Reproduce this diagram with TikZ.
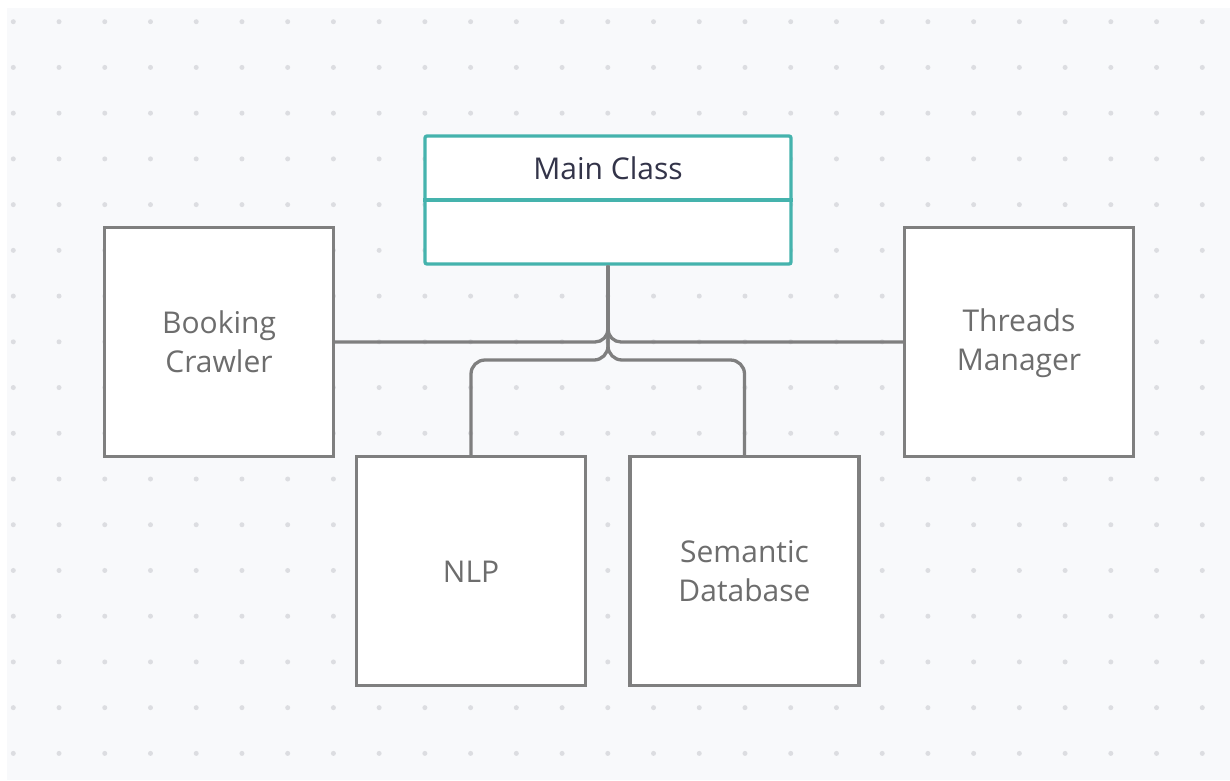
\documentclass[tikz,border=0pt]{standalone}
\usepackage{fontspec}
\setmainfont{Open Sans}
\definecolor{canvas}{HTML}{F8F9FB}
\definecolor{gridDot}{HTML}{DCDDE1}
\definecolor{edgeGray}{HTML}{7F7F7F}
\definecolor{labelGray}{HTML}{6D6D6D}
\definecolor{classTeal}{HTML}{45B3AD}
\definecolor{classInk}{HTML}{333449}
% fixed line box (25pt above, 3pt below the baseline) so every label centres the same way
\newcommand\lblstrut{\rule[-3pt]{0pt}{28pt}}
\tikzset{
  module/.style={draw=edgeGray, line width=3.3pt, fill=white, rectangle,
    minimum width=229pt, minimum height=229pt, inner sep=0pt,
    text=labelGray, align=center,
    font=\fontsize{30}{39.5}\selectfont},
  classbox/.style={draw=classTeal, line width=3.3pt, fill=white, rectangle,
    rounded corners=2pt, minimum width=366pt, minimum height=128pt, inner sep=0pt},
  link/.style={draw=edgeGray, line width=3.3pt}
}
\begin{document}
\begin{tikzpicture}[x=1pt, y=-1pt]
  \useasboundingbox (0,0) rectangle (1230,780);
  % canvas with dot grid
  \fill[white] (0,0) rectangle (1230,780);
  \fill[canvas] (7,8) rectangle (1230,780);
  \foreach \i in {0,...,26}
    \foreach \j in {0,...,16}
      \fill[gridDot] (13.3+45.73*\i, 21.7+45.73*\j) circle (2.5pt);

  % class box
  \node[classbox] (main) at (608,200) {};
  \draw[draw=classTeal, line width=3.3pt] (main.west) -- (main.east);
  \node[text=classInk, inner sep=0pt, font=\fontsize{30}{36}\selectfont] (mainlabel) at (608,168) {\lblstrut Main Class};

  % modules
  \node[module] (booking) at (219,342) {\lblstrut Booking\\\lblstrut Crawler};
  \node[module] (threads) at (1019,342) {\lblstrut Threads\\\lblstrut Manager};
  \node[module] (nlp) at (471,571) {\lblstrut NLP};
  \node[module] (semantic) at (744.5,571) {\lblstrut Semantic\\\lblstrut Database};

  % lower bus level
  \coordinate (lowbus) at (608,360);

  % connectors
  \draw[link, rounded corners=13pt] (booking.east) -| (main.south);
  \draw[link, rounded corners=13pt] (threads.west) -| (main.south);
  \draw[link, rounded corners=14pt] (nlp.north) |- (lowbus) -- (main.south);
  \draw[link, rounded corners=14pt] (semantic.north) |- (lowbus) -- (main.south);
\end{tikzpicture}
\end{document}
